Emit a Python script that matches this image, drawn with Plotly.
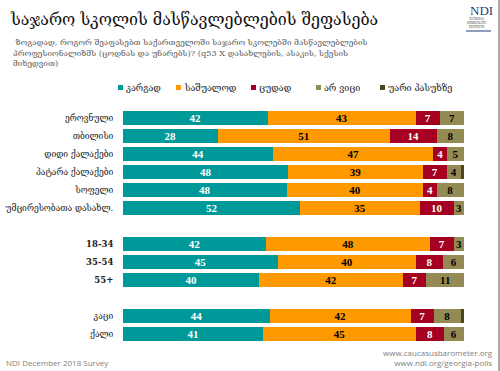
import plotly.graph_objects as go

categories = ["ეროვნული", "თბილისი", "დიდი ქალაქები", "პატარა ქალაქები", "სოფელი",
              "უმცირესობათა დასახლ.", " ", "18-34", "35-54", "55+", "  ", "კაცი", "ქალი"]
tick_labels = ["ეროვნული", "თბილისი", "დიდი ქალაქები", "პატარა ქალაქები", "სოფელი",
               "უმცირესობათა დასახლ.", "", "<b>18-34</b>", "<b>35-54</b>", "<b>55+</b>", "", "კაცი", "ქალი"]
good = [42, 28, 44, 48, 48, 52, None, 42, 45, 40, None, 44, 41]
average = [43, 51, 47, 39, 40, 35, None, 48, 40, 42, None, 42, 45]
bad = [7, 14, 4, 7, 4, 10, None, 7, 8, 7, None, 7, 8]
dont_know = [7, 8, 5, 4, 8, 3, None, 3, 6, 11, None, 8, 6]
refuse = [0, 0, 0, 1, 0, 0, None, 0, 0, 0, None, 1, 0]

series_names = ["კარგად", "საშუალოდ", "ცუდად", "არ ვიცი", "უარი პასუხზე"]
series_values = [good, average, bad, dont_know, refuse]
colors = ["#009999", "#FF9900", "#A50021", "#948A54", "#4A4526"]
text_colors = ["white", "black", "white", "black", "white"]
show_text = [True, True, True, True, False]
legend_x_px = [118, 176, 251, 316, 380]

title = "საჯარო სკოლის მასწავლებლების შეფასება"
subtitle = ("&nbsp;ზოგადად, როგორ შეაფასებთ საქართველოში საჯარო სკოლებში მასწავლებლების<br>"
            "პროფესიონალიზმს (ცოდნას და უნარებს)? (q53 X დასახლების, ასაკის, სქესის<br>"
            "მიხედვით)")

GEO_SERIF = "DejaVu Serif, DejaVu Sans, serif"
SERIF = "Liberation Serif, DejaVu Serif, serif"

L, R, T, B = 123, 36, 109, 28
W, H = 500, 371
PW, PH = W - L - R, H - T - B


def px(x):
    return (x - L) / PW


def py(y):
    return (H - B - y) / PH


fig = go.Figure()
for name, vals, col, tc, st in zip(series_names, series_values, colors, text_colors, show_text):
    txt = [("" if (v is None or not st or v < 2) else str(v)) for v in vals]
    fig.add_trace(go.Bar(
        y=categories, x=vals, name=name, orientation="h",
        marker=dict(color=col, line=dict(width=0)),
        text=txt, textposition="inside", insidetextanchor="middle",
        textangle=0, constraintext="none",
        textfont=dict(color=tc, size=11, family=SERIF, weight="bold"),
        hoverinfo="skip", showlegend=False,
    ))

fig.update_layout(
    width=W, height=H,
    barmode="stack", barnorm="percent", bargap=0.22,
    plot_bgcolor="white", paper_bgcolor="white",
    margin=dict(l=L, r=R, t=T, b=B, autoexpand=False),
    showlegend=False,
    xaxis=dict(range=[0, 100], visible=False, fixedrange=True, automargin=False),
    yaxis=dict(autorange="reversed", showgrid=False, zeroline=False, showline=False,
               tickmode="array", tickvals=categories, ticktext=tick_labels,
               ticks="outside", ticklen=7, tickcolor="rgba(0,0,0,0)", automargin=False,
               tickfont=dict(size=8.5, family=GEO_SERIF, color="#222222"), fixedrange=True),
)

ann = []
ann.append(dict(text=title, xref="paper", yref="paper", x=px(8), y=py(19),
                xanchor="left", yanchor="middle", showarrow=False,
                font=dict(size=16, family=GEO_SERIF, color="#111111")))
ann.append(dict(text=subtitle, xref="paper", yref="paper", x=px(11), y=py(53),
                xanchor="left", yanchor="middle", showarrow=False, align="left",
                font=dict(size=8.2, family=GEO_SERIF, color="#595959")))
ann.append(dict(text="NDI December 2018 Survey", xref="paper", yref="paper",
                x=px(4), y=py(362), xanchor="left", yanchor="middle",
                showarrow=False, font=dict(size=8, family="Open Sans, sans-serif", color="#808080")))
ann.append(dict(text="www.caucasusbarometer.org<br>www.ndi.org/georgia-polls", xref="paper", yref="paper",
                x=px(495), y=py(357), xanchor="right", yanchor="middle",
                showarrow=False, align="right",
                font=dict(size=8, family="Open Sans, sans-serif", color="#808080")))
ann.append(dict(text="NDI", xref="paper", yref="paper", x=px(481), y=py(11),
                xanchor="center", yanchor="middle", showarrow=False,
                font=dict(size=13, family=SERIF, color="#1F3F7A")))
ann.append(dict(text="NATIONAL<br>DEMOCRATIC<br>INSTITUTE", xref="paper", yref="paper",
                x=px(477), y=py(23),
                xanchor="center", yanchor="middle", showarrow=False,
                font=dict(size=3, family=SERIF, color="#333333")))
for name, col, lx in zip(series_names, colors, legend_x_px):
    ann.append(dict(text=name, xref="paper", yref="paper", x=px(lx + 6), y=py(88),
                    xanchor="left", yanchor="middle", showarrow=False,
                    font=dict(size=9, family=GEO_SERIF, color="#222222")))
    fig.add_shape(type="rect", xref="paper", yref="paper",
                  x0=px(lx), x1=px(lx + 5), y0=py(85), y1=py(90),
                  fillcolor=col, line=dict(width=0))
fig.update_layout(annotations=ann)

fig.add_shape(type="line", xref="paper", yref="paper",
              x0=px(499), x1=px(499), y0=py(H), y1=py(0),
              line=dict(color="#555555", width=1))
fig.add_shape(type="line", xref="paper", yref="paper",
              x0=px(466), x1=px(491), y0=py(31), y1=py(31),
              line=dict(color="#1F3F7A", width=1))

fig.write_html("out.html", config={"displayModeBar": False, "staticPlot": True},
               post_script="document.body.style.margin='0';document.body.style.overflow='hidden';")
